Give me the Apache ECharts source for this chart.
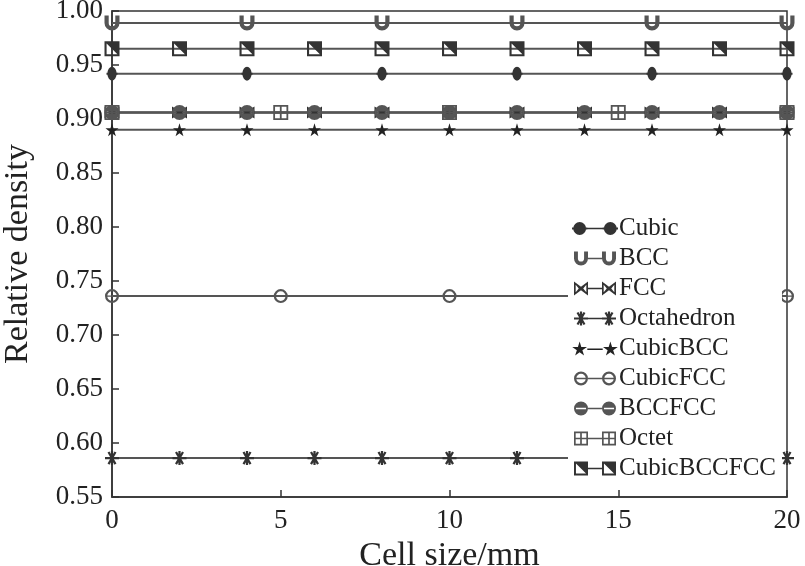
<!DOCTYPE html>
<html>
<head>
<meta charset="utf-8">
<script src="https://cdn.jsdelivr.net/npm/echarts@6/dist/echarts.min.js"></script>
<style>
  html, body { margin: 0; padding: 0; background: #fff; }
  #chart { width: 805px; height: 566px; }
</style>
</head>
<body>
<div id="chart"></div>
<script>
// cell sizes (mm) where each structure was sampled
const xStep2 = [0, 2, 4, 6, 8, 10, 12, 14, 16, 18, 20];
const xStep4 = [0, 4, 8, 12, 16, 20];
const xStep5 = [0, 5, 10, 15, 20];

// relative density
const cubic = [0.942, 0.942, 0.942, 0.942, 0.942, 0.942];
const bcc = [0.989, 0.989, 0.989, 0.989, 0.989, 0.989];
const fcc = [0.906, 0.906, 0.906, 0.906, 0.906, 0.906, 0.906, 0.906, 0.906, 0.906, 0.906];
const octahedron = [0.586, 0.586, 0.586, 0.586, 0.586, 0.586, 0.586, 0.586, 0.586, 0.586, 0.586];
const cubicBCC = [0.890, 0.890, 0.890, 0.890, 0.890, 0.890, 0.890, 0.890, 0.890, 0.890, 0.890];
const cubicFCC = [0.736, 0.736, 0.736, 0.736, 0.736];
const bccFCC = [0.906, 0.906, 0.906, 0.906, 0.906, 0.906, 0.906, 0.906, 0.906, 0.906, 0.906];
const octet = [0.906, 0.906, 0.906, 0.906, 0.906];
const cubicBCCFCC = [0.965, 0.965, 0.965, 0.965, 0.965, 0.965, 0.965, 0.965, 0.965, 0.965, 0.965];

const FONT = '"Liberation Serif", "DejaVu Serif", serif';

// marker shapes, drawn in a 100x100 box
const shapes = {
  cubic: 'M0 44 L100 44 L100 56 L0 56 Z M50 8 A42 42 0 1 1 49.9 8 Z',
  bcc: 'M0 0 L28 0 L28 50 A22 22 0 0 0 72 50 L72 0 L100 0 L100 50 A50 50 0 0 1 0 50 Z',
  fcc: 'M0 0 L50 38 L100 0 L100 100 L50 62 L0 100 Z M12 24 L12 76 L34 50 Z M88 24 L66 50 L88 76 Z',
  octa: 'M42 0 L58 0 L58 100 L42 100 Z M18.1 10.7 L31.9 2.7 L81.9 89.3 L68.1 97.3 Z M31.9 97.3 L18.1 89.3 L68.1 2.7 L81.9 10.7 Z M0 42 L100 42 L100 58 L0 58 Z',
  star: 'M50 0 L61 35 L98 35 L68 57 L79 91 L50 70 L21 91 L32 57 L2 35 L39 35 Z',
  cubicFCC: 'M50 0 A50 50 0 1 1 49.9 0 Z M50 16 A34 34 0 1 0 50.1 16 Z M16 45 L84 45 L84 55 L16 55 Z',
  bccFCC: 'M50 0 A50 50 0 1 1 49.9 0 Z M14 44 L14 56 L86 56 L86 44 Z',
  octet: 'M0 0 L100 0 L100 100 L0 100 Z M12 12 L12 44 L44 44 L44 12 Z M56 12 L56 44 L88 44 L88 12 Z M12 56 L12 88 L44 88 L44 56 Z M56 56 L56 88 L88 88 L88 56 Z',
  cbf: 'M0 0 L100 0 L100 100 L0 100 Z M14 14 L14 86 L86 86 Z'
};

// move a simple M/L/A/Z path sideways
function shiftPath(d, dx) {
  const tokens = d.match(/[MLAZ]|-?\d*\.?\d+/g);
  const out = [];
  let cmd = '', args = [];
  const flush = () => {
    if (cmd === 'M' || cmd === 'L') args[0] += dx;
    if (cmd === 'A') args[5] += dx;
    out.push(cmd + ' ' + args.join(' '));
    args = [];
  };
  tokens.forEach(t => {
    if (/[MLAZ]/.test(t)) {
      if (cmd && cmd !== 'Z') flush();
      if (t === 'Z') out.push('Z');
      cmd = t;
    } else {
      args.push(parseFloat(t));
    }
  });
  if (cmd && cmd !== 'Z') flush();
  return out.join(' ');
}

// legend icon: marker - line - marker
function legendIcon(d) {
  return 'path://' + d + ' M100 45 L200 45 L200 55 L100 55 Z ' + shiftPath(d, 200);
}

function pairs(xs, ys) {
  return xs.map((x, i) => [x, ys[i]]);
}

function makeSeries(name, xs, ys, shape, size, color) {
  return {
    name: name,
    type: 'line',
    data: pairs(xs, ys),
    symbol: 'path://' + shape,
    symbolSize: size,
    showAllSymbol: true,
    clip: true,
    lineStyle: { color: '#555', width: 2 },
    itemStyle: { color: color, opacity: 1 },
    emphasis: { disabled: true }
  };
}

const seriesList = [
  makeSeries('Cubic', xStep4, cubic, shapes.cubic, [11, 14], '#333'),
  makeSeries('BCC', xStep4, bcc, shapes.bcc, [15, 15], '#555'),
  makeSeries('FCC', xStep2, fcc, shapes.fcc, [15, 12], '#333'),
  makeSeries('Octahedron', xStep2, octahedron, shapes.octa, [14, 14], '#333'),
  makeSeries('CubicBCC', xStep2, cubicBCC, shapes.star, [13, 13], '#222'),
  makeSeries('CubicFCC', xStep5, cubicFCC, shapes.cubicFCC, [14, 14], '#555'),
  makeSeries('BCCFCC', xStep2, bccFCC, shapes.bccFCC, [15, 15], '#555'),
  makeSeries('Octet', xStep5, octet, shapes.octet, [15, 15], '#555'),
  makeSeries('CubicBCCFCC', xStep2, cubicBCCFCC, shapes.cbf, [15, 15], '#333')
];

const legendShapes = [shapes.cubic, shapes.bcc, shapes.fcc, shapes.octa, shapes.star,
  shapes.cubicFCC, shapes.bccFCC, shapes.octet, shapes.cbf];

const chart = echarts.init(document.getElementById('chart'));

const option = {
  animation: false,
  backgroundColor: '#fff',
  grid: {
    left: 112, right: 18, top: 11, bottom: 69,
    containLabel: false,
    outerBoundsMode: 'none',
    show: true, borderColor: '#333', borderWidth: 1.5
  },
  legend: {
    orient: 'vertical',
    left: 568,
    top: 214,
    itemWidth: 46,
    itemHeight: 14,
    itemGap: 5,
    backgroundColor: '#fff',
    padding: [2, 6, 2, 4],
    textStyle: { fontFamily: FONT, fontSize: 25, color: '#222', padding: [0, 0, 0, -4] },
    data: seriesList.map((s, i) => ({ name: s.name, icon: legendIcon(legendShapes[i]) }))
  },
  xAxis: {
    type: 'value',
    min: 0, max: 20, interval: 5,
    name: 'Cell size/mm',
    nameLocation: 'middle',
    nameGap: 33,
    nameTextStyle: { fontFamily: FONT, fontSize: 34, color: '#222' },
    axisLine: { lineStyle: { color: '#333', width: 1.5 } },
    axisTick: { inside: true, length: 7, lineStyle: { color: '#333', width: 1.5 } },
    axisLabel: { fontFamily: FONT, fontSize: 27, color: '#222', margin: 10 },
    splitLine: { show: false }
  },
  yAxis: {
    type: 'value',
    min: 0.55, max: 1.0, interval: 0.05,
    name: 'Relative density',
    nameLocation: 'middle',
    nameGap: 77,
    nameTextStyle: { fontFamily: FONT, fontSize: 34, color: '#222' },
    axisLine: { show: true, lineStyle: { color: '#333', width: 1.5 } },
    axisTick: { show: true, inside: true, length: 7, lineStyle: { color: '#333', width: 1.5 } },
    axisLabel: {
      fontFamily: FONT, fontSize: 27, color: '#222', margin: 9,
      formatter: v => v.toFixed(2)
    },
    splitLine: { show: false }
  },
  series: seriesList
};

chart.setOption(option);
window.addEventListener('resize', () => chart.resize());
</script>
</body>
</html>
